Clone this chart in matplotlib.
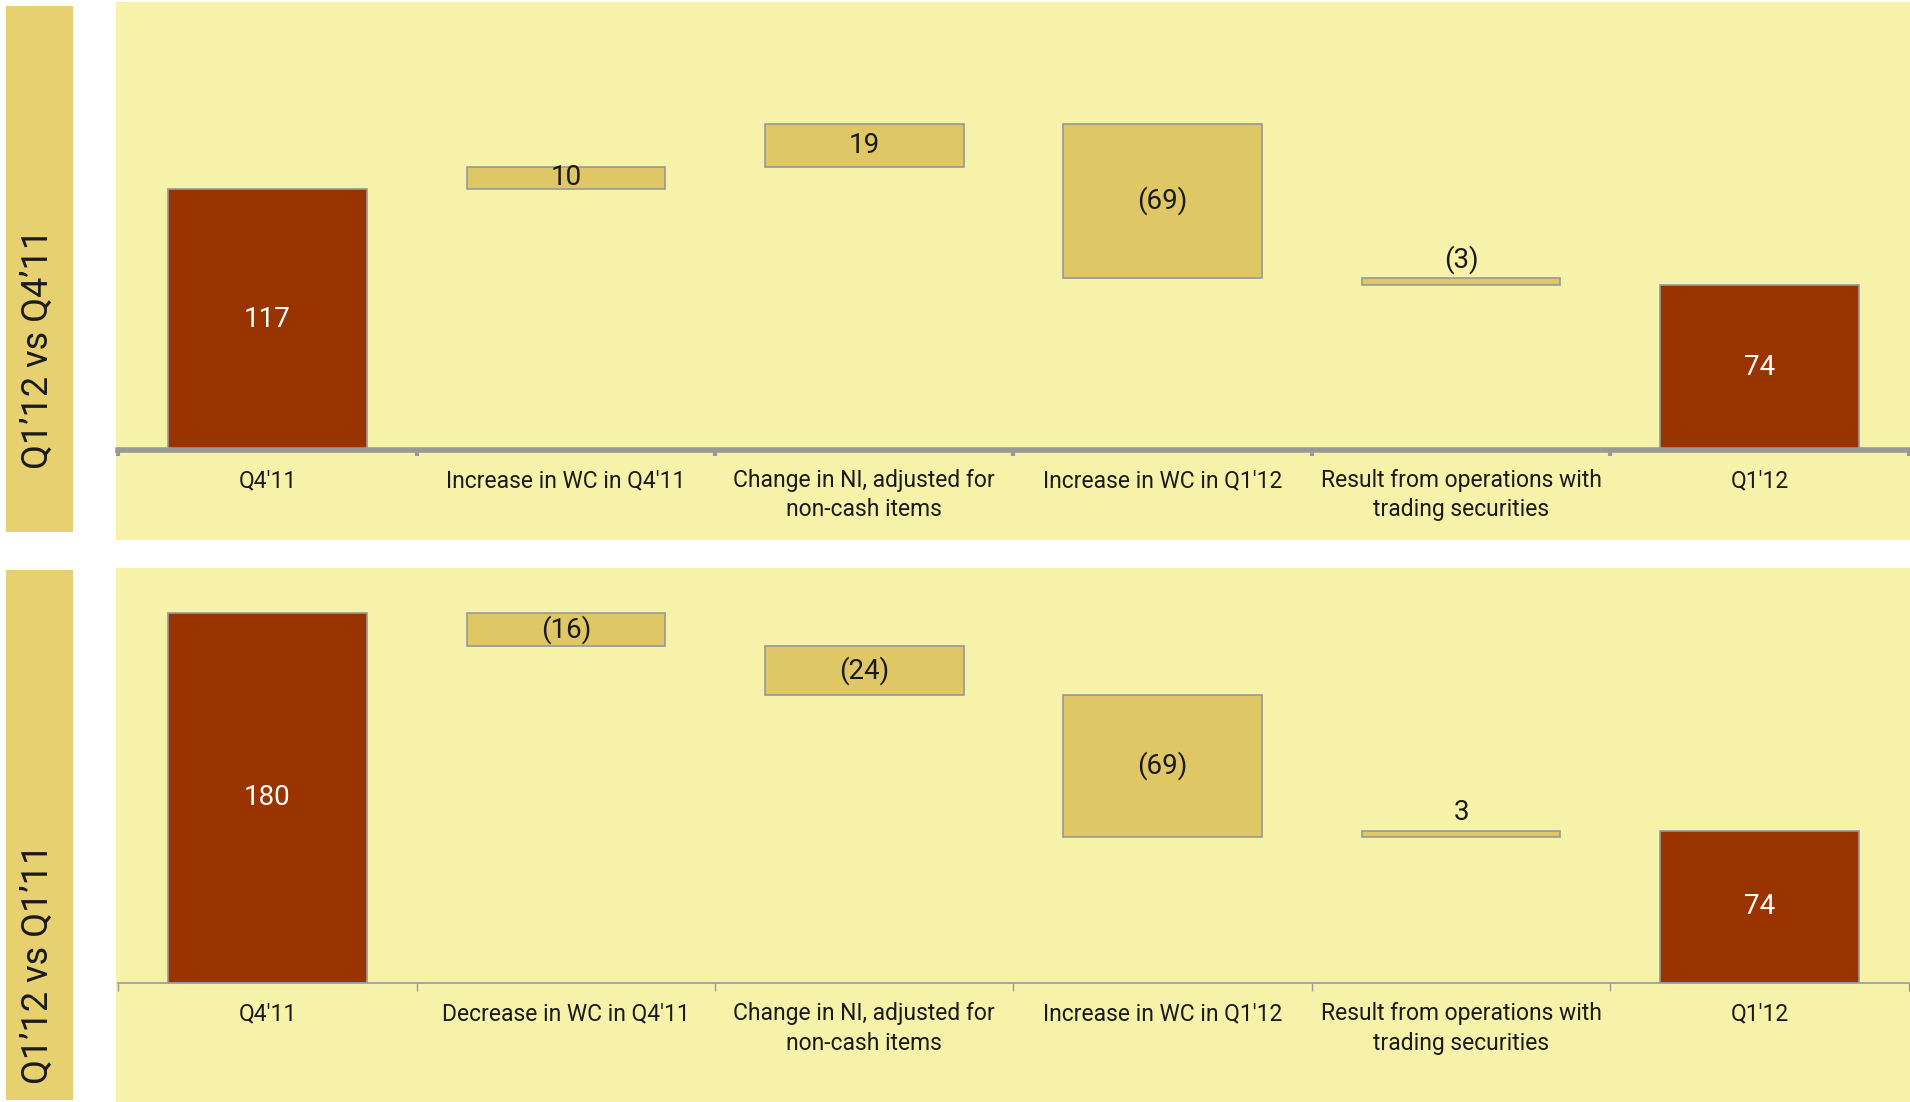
import matplotlib
matplotlib.use("Agg")
import matplotlib.pyplot as plt
from matplotlib.patches import Rectangle

# ---- data -------------------------------------------------------------
panel_titles = ["Q1\u201912 vs Q4\u201911", "Q1\u201912 vs Q1\u201911"]

categories_top = ["Q4'11", "Increase in WC in Q4'11",
                  "Change in NI, adjusted for\nnon-cash items",
                  "Increase in WC in Q1'12",
                  "Result from operations with\ntrading securities", "Q1'12"]
categories_bottom = ["Q4'11", "Decrease in WC in Q4'11",
                     "Change in NI, adjusted for\nnon-cash items",
                     "Increase in WC in Q1'12",
                     "Result from operations with\ntrading securities", "Q1'12"]

start_top = 117
deltas_top = [10, 19, -69, -3]
end_top = 74

start_bottom = 180
deltas_bottom = [-16, -24, -69, 3]
end_bottom = 74

# ---- style ------------------------------------------------------------
PANEL_BG = "#F7F2AA"
TITLE_BG = "#E6D070"
TOTAL_COL = "#993300"
STEP_COL = "#DFC766"
EDGE_COL = "#999999"
TEXT_COL = "#1a1a1a"
FONT = ["Roboto", "DejaVu Sans"]
TITLE_FONT = ["Roboto", "DejaVu Sans"]

W, H = 1910, 1102
fig = plt.figure(figsize=(W / 100, H / 100), dpi=100)
fig.patch.set_facecolor("white")


def fx(px):
    return px / W


def fy(py):
    return 1 - py / H


def fmt(v):
    return f"({abs(v)})" if v < 0 else f"{v}"


def waterfall(ax, start, deltas, end, cats, spine_w, tick_w, tick_len):
    n = len(deltas) + 2
    x = list(range(n))
    bw = 0.665
    # opening total
    ax.bar(0, start, width=bw, color=TOTAL_COL, edgecolor=EDGE_COL, linewidth=1.2)
    ax.text(0, start / 2, fmt(start), ha="center", va="center",
            color="white", fontsize=20, family=FONT)
    cum = start
    for i, d in enumerate(deltas, start=1):
        bottom = min(cum, cum + d)
        ax.bar(i, abs(d), bottom=bottom, width=bw, color=STEP_COL,
               edgecolor=EDGE_COL, linewidth=1.2)
        if abs(d) >= 5:
            ax.text(i, bottom + abs(d) / 2, fmt(d), ha="center", va="center",
                    color=TEXT_COL, fontsize=20, family=FONT)
        else:
            ax.annotate(fmt(d), (i, bottom + abs(d)), xytext=(0, 13),
                        textcoords="offset points", ha="center", va="center",
                        color=TEXT_COL, fontsize=20, family=FONT)
        cum += d
    ax.bar(n - 1, end, width=bw, color=TOTAL_COL, edgecolor=EDGE_COL, linewidth=1.2)
    ax.text(n - 1, end / 2, fmt(end), ha="center", va="center",
            color="white", fontsize=20, family=FONT)

    ax.set_xlim(-0.5, n - 0.5)
    ax.set_ylim(0, 200)
    ax.set_facecolor("none")
    for s in ["top", "right", "left"]:
        ax.spines[s].set_visible(False)
    ax.spines["bottom"].set_color(EDGE_COL)
    ax.spines["bottom"].set_linewidth(spine_w)
    ax.set_yticks([])
    ax.set_xticks([i - 0.5 for i in range(n + 1)])
    ax.set_xticklabels([])
    ax.tick_params(axis="x", direction="out", color=EDGE_COL,
                   width=tick_w, length=tick_len)
    ax.set_xticks(x, minor=True)
    ax.set_xticklabels(cats, minor=True, fontsize=16.5, family=FONT,
                       color=TEXT_COL, linespacing=1.35, va="top")
    ax.tick_params(axis="x", which="minor", length=0, pad=14)


# ---- panel backgrounds ------------------------------------------------
panels = [
    dict(ty0=6, ty1=532, by0=2, by1=540, axis_y=449.5, px_per_unit=2.228),
    dict(ty0=570, ty1=1100, by0=568, by1=1102, axis_y=983.0, px_per_unit=2.057),
]

for p in panels:
    fig.patches.append(Rectangle((fx(6), fy(p["ty1"])), fx(73 - 6),
                                 (p["ty1"] - p["ty0"]) / H,
                                 transform=fig.transFigure, facecolor=TITLE_BG,
                                 edgecolor="none", zorder=-10))
    fig.patches.append(Rectangle((fx(116), fy(p["by1"])), fx(W - 116),
                                 (p["by1"] - p["by0"]) / H,
                                 transform=fig.transFigure, facecolor=PANEL_BG,
                                 edgecolor="none", zorder=-10))

# titles along the left edge
fig.text(fx(38), fy(469), panel_titles[0], rotation=90, ha="center", va="bottom",
         fontsize=26, family=TITLE_FONT, fontweight="normal", color=TEXT_COL)
fig.text(fx(38), fy(1084), panel_titles[1], rotation=90, ha="center", va="bottom",
         fontsize=26, family=TITLE_FONT, fontweight="normal", color=TEXT_COL)

# ---- axes -------------------------------------------------------------
x0, x1 = 118.2, 1908.8
axes = []
for p in panels:
    h_px = 200 * p["px_per_unit"]
    ax = fig.add_axes([fx(x0), fy(p["axis_y"]), fx(x1 - x0), h_px / H])
    axes.append(ax)

waterfall(axes[0], start_top, deltas_top, end_top, categories_top,
          spine_w=4.0, tick_w=3.0, tick_len=4)
waterfall(axes[1], start_bottom, deltas_bottom, end_bottom, categories_bottom,
          spine_w=1.2, tick_w=1.0, tick_len=6)

fig.savefig("out.png", dpi=100, facecolor=fig.get_facecolor())
